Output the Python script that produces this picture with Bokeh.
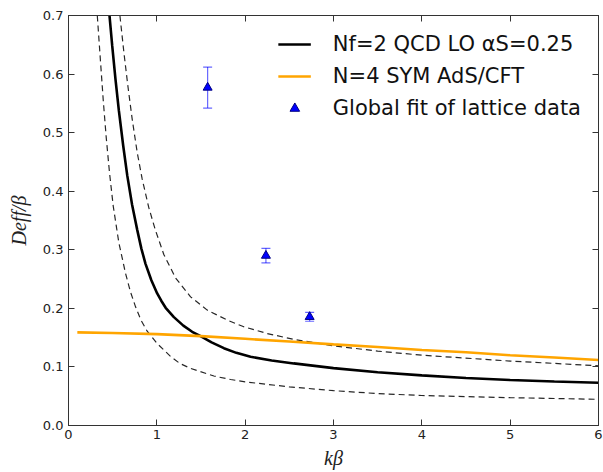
from bokeh.plotting import figure
from bokeh.models import (ColumnDataSource, Whisker, TeeHead, LinearAxis, Range1d,
                          Legend, LegendItem, FixedTicker, PrintfTickFormatter)
from bokeh.embed import file_html
from bokeh.resources import INLINE

# ---- data ----
qcd_x = [0.464, 0.495, 0.532, 0.570, 0.619, 0.665, 0.720, 0.778, 0.825, 0.872, 0.938,
         1.004, 1.05, 1.10, 1.193, 1.30, 1.40, 1.495, 1.62, 1.759, 1.90, 2.061, 2.3, 2.55,
         3.0, 3.5, 4.0, 4.5, 5.0, 5.5, 6.0]
qcd_y = [0.700, 0.648, 0.591, 0.538, 0.478, 0.427, 0.377, 0.334, 0.302, 0.276, 0.248,
         0.2255, 0.213, 0.201, 0.185, 0.1705, 0.160, 0.1526, 0.142, 0.132, 0.124, 0.1173,
         0.111, 0.106, 0.098, 0.091, 0.0855, 0.081, 0.0776, 0.075, 0.073]

qcd_lo_x = [0.326, 0.362, 0.393, 0.427, 0.464, 0.506, 0.570, 0.646, 0.700, 0.759, 0.820,
            0.891, 1.004, 1.155, 1.26, 1.382, 1.646, 1.835, 2.0, 2.5, 3.0, 3.5, 4.0, 5.0,
            6.0]
qcd_lo_y = [0.700, 0.622, 0.556, 0.492, 0.432, 0.375, 0.312, 0.2595, 0.229, 0.2026, 0.180,
            0.161, 0.140, 0.118, 0.106, 0.0975, 0.0845, 0.0785, 0.0745, 0.066, 0.0595,
            0.0545, 0.0512, 0.0475, 0.0447]

qcd_hi_x = [0.582, 0.627, 0.672, 0.721, 0.778, 0.834, 0.909, 0.985, 1.079, 1.212, 1.382,
            1.571, 1.797, 1.985, 2.25, 2.55, 3.0, 3.5, 4.0, 5.0, 6.0]
qcd_hi_y = [0.700, 0.637, 0.580, 0.523, 0.466, 0.421, 0.372, 0.333, 0.292, 0.252, 0.2196,
            0.197, 0.180, 0.1685, 0.157, 0.147, 0.136, 0.127, 0.120, 0.110, 0.102]

ads_x = [0.1, 0.5, 1.0, 1.5, 2.0, 2.5, 3.0, 3.5, 4.0, 4.5, 5.0, 5.5, 6.0]
ads_y = [0.159, 0.158, 0.156, 0.1526, 0.148, 0.1435, 0.1385, 0.134, 0.129, 0.125,
         0.120, 0.116, 0.1117]

lat_x = [1.575, 2.235, 2.73]
lat_y = [0.577, 0.290, 0.1855]
lat_err = [0.035, 0.0125, 0.0075]

x_ticks = [0, 1, 2, 3, 4, 5, 6]
y_ticks = [0.0, 0.1, 0.2, 0.3, 0.4, 0.5, 0.6, 0.7]

label_qcd = "Nf=2 QCD LO αS=0.25"
label_ads = "N=4 SYM AdS/CFT"
label_lat = "Global fit of lattice data"

# ---- figure ----
p = figure(frame_width=530, frame_height=410, output_backend="svg", toolbar_location=None,
           x_range=Range1d(0, 6), y_range=Range1d(0, 0.7),
           min_border_left=68, min_border_right=5, min_border_top=15, min_border_bottom=46)
p.background_fill_color = "white"
p.border_fill_color = "white"
p.outline_line_color = "#333333"
p.outline_line_width = 1
p.grid.visible = False

tick_font = "DejaVu Sans"
for ax in (p.xaxis[0], p.yaxis[0]):
    ax.major_tick_in = 6
    ax.major_tick_out = 0
    ax.minor_tick_line_color = None
    ax.axis_line_color = "#333333"
    ax.major_tick_line_color = "#333333"
    ax.major_label_text_font = tick_font
    ax.major_label_text_font_size = "13px"
    ax.major_label_text_color = "#222222"
    ax.axis_label_text_font = "Liberation Serif"
    ax.axis_label_text_font_style = "italic"
    ax.axis_label_text_font_size = "20px"
    ax.axis_label_text_color = "#222222"

p.xaxis.ticker = FixedTicker(ticks=x_ticks)
p.yaxis.ticker = FixedTicker(ticks=y_ticks)
p.yaxis.formatter = PrintfTickFormatter(format="%.1f")
p.xaxis.major_label_standoff = 4
p.yaxis.major_label_standoff = 5
p.xaxis.axis_label = "kβ"
p.yaxis.axis_label = "Deff/β"
p.xaxis.axis_label_standoff = 5
p.yaxis.axis_label_standoff = 10

top = LinearAxis(ticker=FixedTicker(ticks=x_ticks), major_tick_in=6, major_tick_out=0,
                 minor_tick_line_color=None, major_label_text_font_size="1px",
                 major_label_text_color=None,
                 major_label_standoff=0, axis_line_color="#333333",
                 major_tick_line_color="#333333")
right = LinearAxis(ticker=FixedTicker(ticks=y_ticks), major_tick_in=6, major_tick_out=0,
                   minor_tick_line_color=None, major_label_text_font_size="1px",
                   major_label_text_color=None,
                   major_label_standoff=0, axis_line_color="#333333",
                   major_tick_line_color="#333333")
p.add_layout(top, "above")
p.add_layout(right, "right")

# ---- curves ----
r_lo = p.line(qcd_lo_x, qcd_lo_y, line_color="black", line_alpha=0.85, line_width=1.2,
              line_dash="6 4")
r_hi = p.line(qcd_hi_x, qcd_hi_y, line_color="black", line_alpha=0.85, line_width=1.2,
              line_dash="6 4")
r_qcd = p.line(qcd_x, qcd_y, line_color="black", line_width=2.6)
r_ads = p.line(ads_x, ads_y, line_color="#FFA500", line_width=2.6)

src = ColumnDataSource(dict(x=lat_x, y=lat_y,
                            upper=[a + b for a, b in zip(lat_y, lat_err)],
                            lower=[a - b for a, b in zip(lat_y, lat_err)]))
wh = Whisker(source=src, base="x", upper="upper", lower="lower",
             line_color="blue", line_alpha=0.6, line_width=1.2,
             upper_head=TeeHead(size=9, line_color="blue", line_alpha=0.6, line_width=1.2),
             lower_head=TeeHead(size=9, line_color="blue", line_alpha=0.6, line_width=1.2))
p.add_layout(wh)
r_lat = p.scatter("x", "y", source=src, marker="triangle", size=9,
                  fill_color="blue", line_color="#000080", line_width=1)

legend = Legend(items=[LegendItem(label=label_qcd, renderers=[r_qcd]),
                       LegendItem(label=label_ads, renderers=[r_ads]),
                       LegendItem(label=label_lat, renderers=[r_lat])],
                location="top_right", margin=17, padding=10,
                label_text_font="DejaVu Sans", label_text_font_size="21px",
                label_text_color="#111111",
                glyph_width=33, glyph_height=24, label_height=24, spacing=8,
                label_standoff=22,
                border_line_color=None, background_fill_alpha=0)
p.add_layout(legend)

open("out.html", "w").write(file_html(p, INLINE))
